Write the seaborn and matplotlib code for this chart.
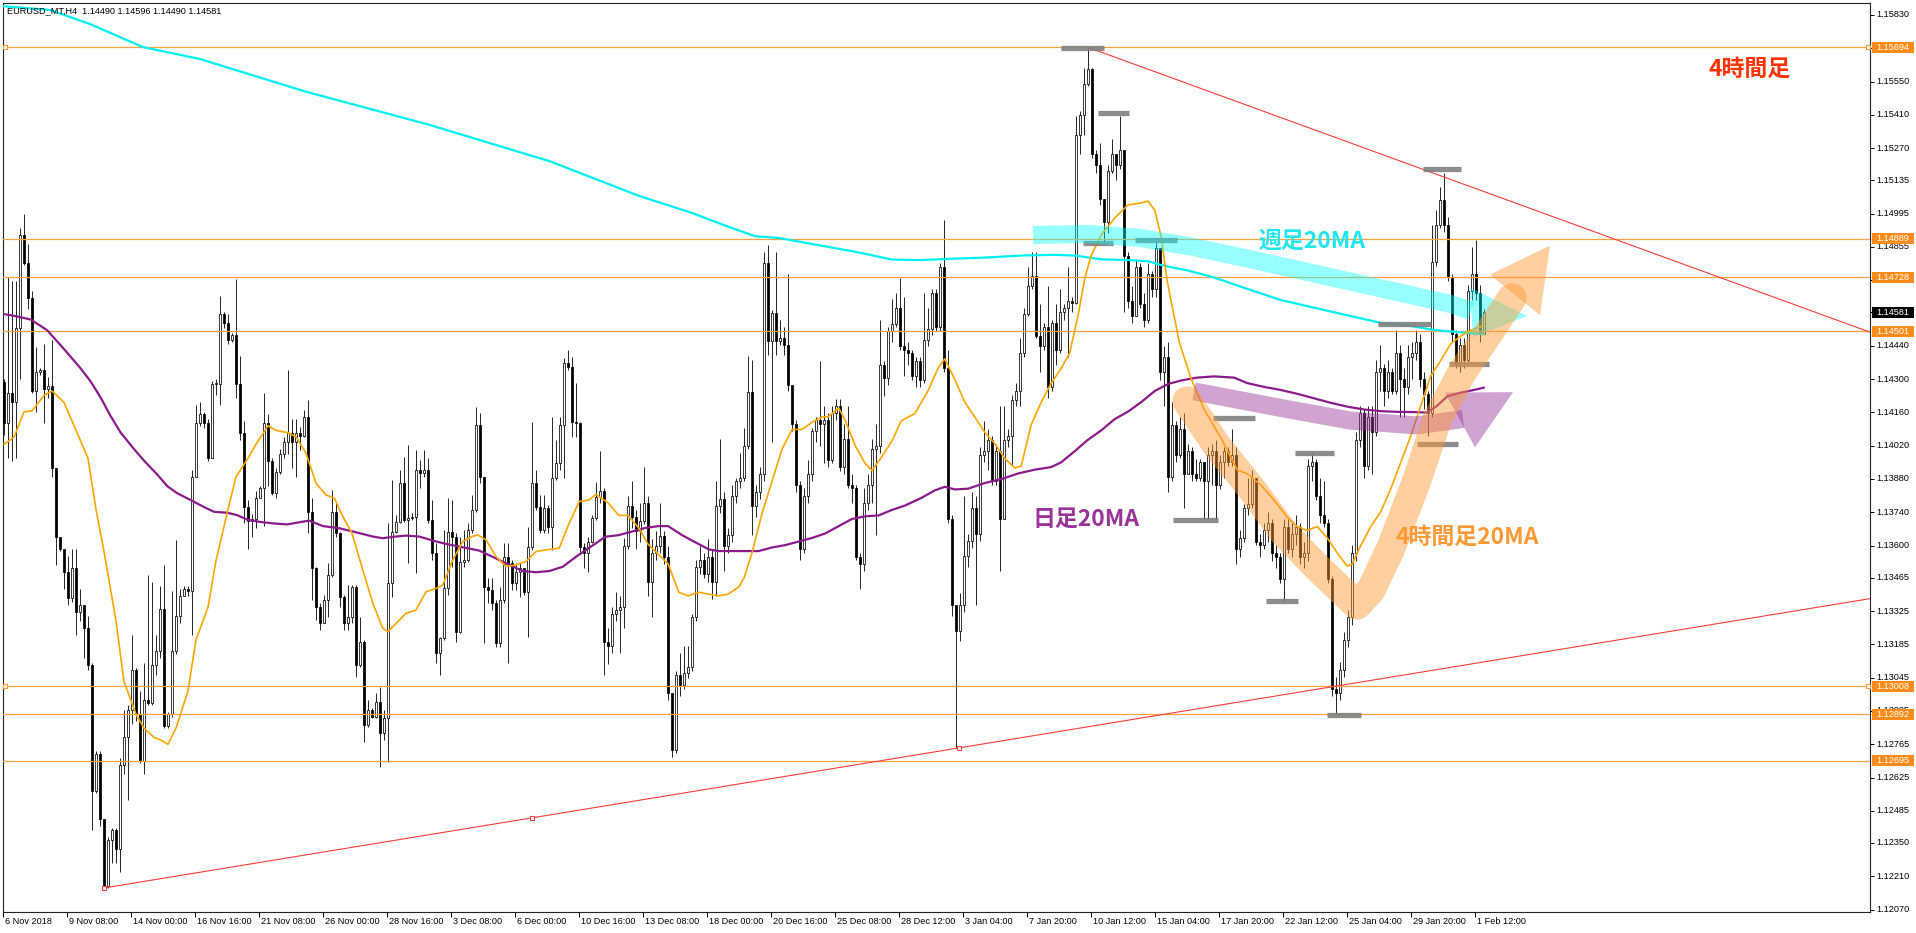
import numpy as np
import pandas as pd
import matplotlib
matplotlib.use("Agg")
import matplotlib.pyplot as plt
import matplotlib.transforms as mtransforms
from matplotlib.patches import Rectangle, Polygon
import seaborn as sns

# ---------------------------------------------------------------- data
first_open = 1.14289
closes = [
    1.14114, 1.14241, 1.14202, 1.14514, 1.14905, 1.14788, 1.14641, 1.14250, 1.14329, 1.14339,
    1.14260, 1.14270, 1.13928, 1.13635, 1.13586, 1.13488, 1.13380, 1.13507, 1.13322, 1.13351,
    1.13253, 1.13097, 1.12569, 1.12725, 1.12452, 1.12168, 1.12364, 1.12403, 1.12325, 1.12677,
    1.12794, 1.12911, 1.13078, 1.12891, 1.12696, 1.12950, 1.12940, 1.13097, 1.13155, 1.13332,
    1.12843, 1.12891, 1.13155, 1.13302, 1.13390, 1.13419, 1.13410, 1.13889, 1.14114, 1.14153,
    1.14114, 1.13967, 1.14280, 1.14280, 1.14573, 1.14534, 1.14465, 1.14485, 1.14280, 1.14074,
    1.13762, 1.13703, 1.13713, 1.13801, 1.13840, 1.14114, 1.13957, 1.13820, 1.13908, 1.13986,
    1.14035, 1.14074, 1.14035, 1.14074, 1.14060, 1.14142, 1.13743, 1.13505, 1.13343, 1.13273,
    1.13371, 1.13476, 1.13743, 1.13652, 1.13385, 1.13273, 1.13301, 1.13427, 1.13098, 1.13196,
    1.12846, 1.12909, 1.12881, 1.12944, 1.12811, 1.12874, 1.13441, 1.13659, 1.13701, 1.13862,
    1.13708, 1.13715, 1.13722, 1.13918, 1.13904, 1.13918, 1.13708, 1.13568, 1.13147, 1.13210,
    1.13420, 1.13659, 1.13638, 1.13238, 1.13533, 1.13540, 1.13666, 1.13750, 1.14107, 1.13890,
    1.13427, 1.13413, 1.13358, 1.13189, 1.13371, 1.13554, 1.13526, 1.13441, 1.13490, 1.13505,
    1.13406, 1.13596, 1.13862, 1.13764, 1.13666, 1.13757, 1.13680, 1.13883, 1.13946, 1.14107,
    1.14366, 1.14352, 1.14121, 1.14114, 1.13596, 1.13568, 1.13617, 1.13715, 1.13806, 1.13830,
    1.13193, 1.13178, 1.13313, 1.13328, 1.13343, 1.13600, 1.13765, 1.13720, 1.13660, 1.13704,
    1.13780, 1.13449, 1.13569, 1.13600, 1.13640, 1.13554, 1.12980, 1.12742, 1.13058, 1.13013,
    1.13066, 1.13088, 1.13298, 1.13509, 1.13539, 1.13479, 1.13554, 1.13449, 1.13765, 1.13795,
    1.13599, 1.13644, 1.13810, 1.13870, 1.13885, 1.14020, 1.14246, 1.13765, 1.13825, 1.13900,
    1.14787, 1.14458, 1.14577, 1.14458, 1.14472, 1.14441, 1.14276, 1.14111, 1.13855, 1.13584,
    1.13810, 1.13900, 1.14081, 1.14126, 1.14111, 1.14126, 1.13960, 1.14156, 1.14186, 1.13930,
    1.14050, 1.13855, 1.13840, 1.13554, 1.13524, 1.13780, 1.13855, 1.14005, 1.14020, 1.14359,
    1.14306, 1.14502, 1.14532, 1.14598, 1.14440, 1.14424, 1.14408, 1.14313, 1.14377, 1.14298,
    1.14463, 1.14511, 1.14661, 1.14519, 1.14772, 1.14345, 1.13713, 1.13349, 1.13240, 1.13349,
    1.13555, 1.13618, 1.13760, 1.13650, 1.13982, 1.13997, 1.14045, 1.13871, 1.13997, 1.13713,
    1.14045, 1.14061, 1.14211, 1.14250, 1.14408, 1.14574, 1.14693, 1.14732, 1.14479, 1.14440,
    1.14519, 1.14266, 1.14535, 1.14424, 1.14582, 1.14598, 1.14629, 1.14621, 1.15325, 1.15411,
    1.15538, 1.15601, 1.15246, 1.15198, 1.15056, 1.14961, 1.15175, 1.15246, 1.15198, 1.15261,
    1.14819, 1.14629, 1.14566, 1.14772, 1.14614, 1.14550, 1.14740, 1.14677, 1.14851, 1.14329,
    1.14392, 1.13887, 1.14108, 1.13982, 1.14092, 1.13902, 1.13997, 1.13902, 1.13886, 1.13950,
    1.13870, 1.13981, 1.13997, 1.13855, 1.13950, 1.13997, 1.13950, 1.13981, 1.13585, 1.13633,
    1.13759, 1.13775, 1.13886, 1.13617, 1.13601, 1.13664, 1.13696, 1.13569, 1.13553, 1.13458,
    1.13680, 1.13585, 1.13648, 1.13680, 1.13553, 1.13569, 1.13934, 1.13950, 1.13807, 1.13727,
    1.13696, 1.13458, 1.12998, 1.12982, 1.13077, 1.13204, 1.13299, 1.13569, 1.14045, 1.14156,
    1.13934, 1.14140, 1.14076, 1.14330, 1.14346, 1.14251, 1.14330, 1.14251, 1.14410, 1.14299,
    1.14267, 1.14394, 1.14410, 1.14457, 1.14299, 1.14235, 1.14156, 1.14790, 1.14949, 1.15052,
    1.14949, 1.14727, 1.14489, 1.14362, 1.14441, 1.14378, 1.14671, 1.14743, 1.14663, 1.14489,
    1.14581,
]
highs = [
    1.14299, 1.14729, 1.14710, 1.14710, 1.14935, 1.14993, 1.14866, 1.14671, 1.14436, 1.14348,
    1.14446, 1.14309, 1.14465, 1.13928, 1.13635, 1.13586, 1.13556, 1.13586, 1.13586, 1.13419,
    1.13351, 1.13302, 1.13107, 1.12735, 1.12735, 1.12452, 1.12374, 1.12413, 1.12413, 1.12706,
    1.12911, 1.12931, 1.13224, 1.13087, 1.12989, 1.13107, 1.13478, 1.13449, 1.13224, 1.13429,
    1.13517, 1.12901, 1.13410, 1.13625, 1.13419, 1.13429, 1.13429, 1.13918, 1.14192, 1.14202,
    1.14162, 1.14133, 1.14290, 1.14299, 1.14651, 1.14583, 1.14573, 1.14495, 1.14720, 1.14397,
    1.14123, 1.13791, 1.13732, 1.13830, 1.13850, 1.14241, 1.14153, 1.13967, 1.13928, 1.14006,
    1.14055, 1.14338, 1.14133, 1.14133, 1.14100, 1.14170, 1.14212, 1.13799, 1.13511, 1.13358,
    1.13392, 1.13526, 1.13834, 1.13785, 1.13659, 1.13392, 1.13434, 1.13434, 1.13434, 1.13301,
    1.13203, 1.12951, 1.12916, 1.12979, 1.13007, 1.12909, 1.13694, 1.13876, 1.13729, 1.13918,
    1.13974, 1.14023, 1.13736, 1.14002, 1.13960, 1.14002, 1.13967, 1.13792, 1.13610, 1.13217,
    1.13666, 1.13799, 1.13792, 1.13652, 1.13638, 1.13666, 1.13694, 1.13813, 1.14184, 1.14156,
    1.13890, 1.13462, 1.13462, 1.13371, 1.13427, 1.13610, 1.13610, 1.13540, 1.13526, 1.13526,
    1.13497, 1.13680, 1.14121, 1.13918, 1.13813, 1.13813, 1.13771, 1.14142, 1.14044, 1.14142,
    1.14387, 1.14422, 1.14394, 1.14282, 1.14121, 1.13610, 1.13638, 1.13729, 1.13869, 1.13998,
    1.13840, 1.13253, 1.13343, 1.13404, 1.13389, 1.13630, 1.13810, 1.13870, 1.13750, 1.13780,
    1.13930, 1.13810, 1.13629, 1.13660, 1.13780, 1.13660, 1.13600, 1.12980, 1.13073, 1.13148,
    1.13178, 1.13178, 1.13313, 1.13539, 1.13600, 1.13569, 1.13629, 1.13584, 1.13870, 1.14050,
    1.13825, 1.13674, 1.13855, 1.13885, 1.13990, 1.14096, 1.14396, 1.14381, 1.13855, 1.13930,
    1.14832, 1.14862, 1.14592, 1.14832, 1.14547, 1.14517, 1.14742, 1.14276, 1.14126, 1.13870,
    1.13840, 1.13960, 1.14096, 1.14141, 1.14374, 1.14186, 1.14156, 1.14186, 1.14216, 1.14216,
    1.14111, 1.14186, 1.13900, 1.13855, 1.13569, 1.13840, 1.13900, 1.14050, 1.14111, 1.14547,
    1.14374, 1.14517, 1.14637, 1.14661, 1.14724, 1.14645, 1.14456, 1.14424, 1.14392, 1.14392,
    1.14661, 1.14598, 1.14677, 1.14677, 1.14787, 1.14969, 1.14424, 1.13729, 1.13349, 1.13400,
    1.13808, 1.13650, 1.13824, 1.13808, 1.14013, 1.14124, 1.14092, 1.14061, 1.14029, 1.14187,
    1.14187, 1.14092, 1.14234, 1.14282, 1.14471, 1.14598, 1.14772, 1.14835, 1.14835, 1.14614,
    1.14535, 1.14693, 1.14550, 1.14614, 1.14677, 1.14614, 1.14772, 1.14645, 1.15404, 1.15427,
    1.15609, 1.15696, 1.15609, 1.15261, 1.15293, 1.15056, 1.15198, 1.15309, 1.15246, 1.15404,
    1.15261, 1.14835, 1.14693, 1.14803, 1.14787, 1.14661, 1.14787, 1.14756, 1.14882, 1.14851,
    1.14440, 1.14456, 1.14202, 1.14124, 1.14140, 1.14156, 1.14029, 1.14013, 1.13965, 1.13965,
    1.13950, 1.14013, 1.14029, 1.14045, 1.13981, 1.14013, 1.14013, 1.14092, 1.14013, 1.13664,
    1.13775, 1.13886, 1.13918, 1.13886, 1.13648, 1.13696, 1.13743, 1.13712, 1.13601, 1.13569,
    1.13712, 1.13712, 1.13696, 1.13727, 1.13696, 1.13617, 1.13965, 1.13990, 1.13965, 1.13886,
    1.13870, 1.13712, 1.13474, 1.13046, 1.13109, 1.13236, 1.13331, 1.13601, 1.14076, 1.14188,
    1.14172, 1.14188, 1.14188, 1.14378, 1.14441, 1.14362, 1.14378, 1.14346, 1.14505, 1.14441,
    1.14346, 1.14441, 1.14457, 1.14505, 1.14489, 1.14330, 1.14251, 1.14949, 1.15012, 1.15107,
    1.15165, 1.14981, 1.14743, 1.14505, 1.14473, 1.14473, 1.14695, 1.14854, 1.14885, 1.14695,
    1.14596,
]
lows = [
    1.14065, 1.13967, 1.13957, 1.13967, 1.14299, 1.14778, 1.14593, 1.14241, 1.14162, 1.14319,
    1.14114, 1.14221, 1.13889, 1.13517, 1.13576, 1.13419, 1.13351, 1.13361, 1.13224, 1.13283,
    1.13126, 1.13078, 1.12403, 1.12560, 1.12422, 1.12159, 1.12159, 1.12266, 1.12266, 1.12227,
    1.12638, 1.12530, 1.12852, 1.12862, 1.12686, 1.12638, 1.12931, 1.12931, 1.13058, 1.13126,
    1.12833, 1.12833, 1.12881, 1.13146, 1.13273, 1.13396, 1.13390, 1.13224, 1.13889, 1.14104,
    1.14094, 1.13957, 1.13967, 1.14231, 1.14192, 1.14514, 1.14446, 1.14456, 1.14221, 1.14045,
    1.13693, 1.13586, 1.13635, 1.13674, 1.13801, 1.13683, 1.13850, 1.13811, 1.13801, 1.13899,
    1.13967, 1.13986, 1.13928, 1.13889, 1.14000, 1.14058, 1.13652, 1.13371, 1.13287, 1.13245,
    1.13273, 1.13301, 1.13469, 1.13638, 1.13343, 1.13245, 1.13245, 1.13273, 1.13049, 1.13091,
    1.12776, 1.12839, 1.12874, 1.12874, 1.12671, 1.12783, 1.12692, 1.13385, 1.13652, 1.13694,
    1.13701, 1.13526, 1.13708, 1.13483, 1.13841, 1.13890, 1.13694, 1.13540, 1.13105, 1.13056,
    1.13203, 1.13392, 1.13511, 1.13196, 1.13231, 1.13511, 1.13533, 1.13652, 1.13743, 1.13862,
    1.13189, 1.13358, 1.13329, 1.13175, 1.13175, 1.13358, 1.13105, 1.13413, 1.13413, 1.13385,
    1.13392, 1.13217, 1.13582, 1.13750, 1.13652, 1.13652, 1.13652, 1.13582, 1.13876, 1.13918,
    1.13883, 1.14338, 1.14058, 1.14058, 1.13568, 1.13505, 1.13490, 1.13610, 1.13708, 1.13780,
    1.13058, 1.13103, 1.13148, 1.13283, 1.13148, 1.13253, 1.13584, 1.13674, 1.13584, 1.13614,
    1.13690, 1.13389, 1.13298, 1.13539, 1.13569, 1.13524, 1.12950, 1.12712, 1.12727, 1.12967,
    1.12997, 1.13043, 1.13073, 1.13283, 1.13479, 1.13464, 1.13449, 1.13374, 1.13389, 1.13735,
    1.13493, 1.13569, 1.13614, 1.13780, 1.13840, 1.13870, 1.14005, 1.13644, 1.13720, 1.13795,
    1.13870, 1.14400, 1.14035, 1.14400, 1.14442, 1.14400, 1.14250, 1.14080, 1.13825, 1.13539,
    1.13569, 1.13780, 1.13870, 1.14035, 1.14020, 1.13945, 1.13930, 1.13945, 1.14126, 1.13915,
    1.13900, 1.13840, 1.13780, 1.13539, 1.13419, 1.13493, 1.13750, 1.13780, 1.13644, 1.13990,
    1.14230, 1.14276, 1.14457, 1.14519, 1.14424, 1.14313, 1.14361, 1.14298, 1.14266, 1.14266,
    1.14282, 1.14440, 1.14487, 1.14503, 1.14503, 1.14329, 1.13697, 1.13302, 1.12750, 1.13200,
    1.13320, 1.13508, 1.13590, 1.13349, 1.13618, 1.13950, 1.13918, 1.13855, 1.13855, 1.13492,
    1.13713, 1.14013, 1.13934, 1.14187, 1.14187, 1.14392, 1.14566, 1.14677, 1.14471, 1.14329,
    1.14424, 1.14219, 1.14250, 1.14361, 1.14408, 1.14550, 1.14392, 1.14582, 1.14614, 1.15246,
    1.15325, 1.15530, 1.15230, 1.15167, 1.15030, 1.14866, 1.14914, 1.15167, 1.15135, 1.15183,
    1.14582, 1.14598, 1.14535, 1.14566, 1.14598, 1.14519, 1.14535, 1.14645, 1.14645, 1.14298,
    1.14187, 1.13824, 1.13870, 1.13950, 1.13966, 1.13759, 1.13902, 1.13870, 1.13870, 1.13870,
    1.13712, 1.13712, 1.13855, 1.13712, 1.13839, 1.13886, 1.13934, 1.13934, 1.13521, 1.13553,
    1.13617, 1.13727, 1.13759, 1.13601, 1.13553, 1.13585, 1.13617, 1.13537, 1.13506, 1.13442,
    1.13363, 1.13569, 1.13553, 1.13601, 1.13521, 1.13506, 1.13537, 1.13870, 1.13791, 1.13696,
    1.13680, 1.13442, 1.12966, 1.12887, 1.12950, 1.13046, 1.13173, 1.13268, 1.13537, 1.14013,
    1.13886, 1.13918, 1.13902, 1.14061, 1.14251, 1.14188, 1.14219, 1.14235, 1.14235, 1.14140,
    1.14140, 1.14235, 1.14299, 1.14378, 1.14267, 1.14172, 1.14061, 1.14140, 1.14774, 1.14933,
    1.14917, 1.14711, 1.14457, 1.14346, 1.14330, 1.14346, 1.14362, 1.14632, 1.14632, 1.14457,
    1.14490,
]

# 4H 20MA (orange), daily 20MA (purple), weekly 20MA (cyan): (bar, price)
ma4h_bar = [0, 2.5, 5, 7, 10, 12, 15, 18, 21, 23, 25, 28, 30, 33, 35, 37.5, 39, 41, 43, 46,
            48, 51, 53, 56, 58, 61, 63, 66, 68, 71, 73, 75.5, 78, 80.5, 82.6, 84.7, 87, 89.7, 92.2, 94.7,
            96, 98, 100.5, 103, 105.5, 108, 109.7, 112, 114.7, 117, 118.4, 120.5, 123, 125.5, 128, 130.5,
            133, 135.5, 138.8, 141.3, 143.8, 146.3, 148, 151, 153.7, 156, 158.7, 161, 163.7, 166,
            168.7, 171, 173.7, 176, 178.7, 181, 183.7, 185, 187, 189.5, 192, 194.5, 197, 199.5, 202,
            204.5, 206, 208.7, 210.3, 212.8, 215.3, 217, 219.5, 222, 224.3, 227.7, 231, 233.5, 235.2,
            237.7, 240.2, 242.7, 245.2, 247.7, 250.2, 252.7, 254.3, 256.8, 259.3, 261.8, 264.3, 266.4,
            268.5, 270.2, 271.8, 274.3, 277.7, 281, 284.3, 286, 287.7, 289.3, 290.8, 293.8, 296.8, 300,
            304.5, 308.3, 310.8, 314.2, 317.5, 320.8, 323.3, 325.8, 328.3, 330.8, 333.3, 335.8, 337,
            339.2, 341.7, 344.2, 346.7, 349.2, 351.7, 354.2, 356.7, 359.2, 361.7, 364.2, 366.7, 369.2, 370]
ma4h_val = [1.14026, 1.14055, 1.14162, 1.14166, 1.14231, 1.14250, 1.14202, 1.14084, 1.13967, 1.13752,
            1.13576, 1.13283, 1.13028, 1.12891, 1.12833, 1.12794, 1.12784, 1.12765, 1.12833, 1.12989,
            1.13204, 1.13341, 1.13537, 1.13752, 1.13889, 1.13967, 1.14026, 1.14104, 1.14084, 1.14074,
            1.14058, 1.13988, 1.13862, 1.13813, 1.13799, 1.13722, 1.13652, 1.13497, 1.13358, 1.13252,
            1.13238, 1.13273, 1.13315, 1.13329, 1.13406, 1.13420, 1.13434, 1.13533, 1.13617, 1.13638,
            1.13645, 1.13624, 1.13554, 1.13512, 1.13519, 1.13533, 1.13575, 1.13582, 1.13589, 1.13694,
            1.13785, 1.13792, 1.13815, 1.13780, 1.13727, 1.13727, 1.13674, 1.13606, 1.13561, 1.13524,
            1.13404, 1.13389, 1.13404, 1.13396, 1.13389, 1.13396, 1.13426, 1.13464, 1.13569, 1.13735,
            1.13870, 1.14005, 1.14088, 1.14088, 1.14118, 1.14141, 1.14141, 1.14178, 1.14126, 1.14020,
            1.13945, 1.13915, 1.13975, 1.14040, 1.14124, 1.14155, 1.14250, 1.14345, 1.14385, 1.14298,
            1.14203, 1.14140, 1.14076, 1.14029, 1.13966, 1.13926, 1.13934, 1.14108, 1.14203, 1.14282,
            1.14345, 1.14408, 1.14566, 1.14724, 1.14819, 1.14906, 1.14977, 1.15032, 1.15040, 1.15048,
            1.15009, 1.14898, 1.14712, 1.14456, 1.14300, 1.14174, 1.14044, 1.13918, 1.13902, 1.13855,
            1.13791, 1.13720, 1.13680, 1.13664, 1.13680, 1.13633, 1.13569, 1.13514, 1.13521, 1.13601,
            1.13680, 1.13743, 1.13839, 1.13950, 1.14061, 1.14188, 1.14314, 1.14378, 1.14449, 1.14481,
            1.14505, 1.14520, 1.14529]
mad_bar = [0, 3.3, 6.7, 10.8, 15, 19, 21.7, 24.2, 26.7, 29.2, 32.5, 35, 38.3, 40.8, 43.3, 46.7, 50,
           52.5, 55.8, 58.3, 60.8, 64.2, 67.5, 70.8, 74.2, 76.3, 79.7, 83.8, 88, 92.2, 94.7, 98, 100.5,
           103.8, 107.2, 110.5, 114.7, 118.8, 123, 126.3, 129.7, 133, 136.3, 139.7, 143, 145.5, 148,
           150.3, 153.7, 157, 160.3, 163.7, 166, 169.5, 172.8, 176.2, 178.7, 182, 185.3, 188.7, 192,
           195.3, 198.7, 202, 205.3, 208.7, 212, 215.3, 218.7, 222, 225.2, 229.3, 232.7, 235.2, 237.7,
           241, 245.2, 249.3, 253.5, 257.7, 261.8, 264.3, 267.7, 271, 274.3, 277.7, 281, 284.3, 287.7,
           291, 294.3, 298.3, 302.5, 307.5, 310.8, 315, 319.2, 323.3, 327.5, 331.7, 335.8, 340, 344.2,
           348.3, 352.5, 355.8, 358.3, 360.8, 364.2, 367.5, 370]
mad_val = [1.14573, 1.14563, 1.14550, 1.14505, 1.14426, 1.14348, 1.14289, 1.14221, 1.14143, 1.14074,
           1.14006, 1.13957, 1.13899, 1.13850, 1.13820, 1.13791, 1.13762, 1.13742, 1.13738, 1.13728,
           1.13709, 1.13699, 1.13693, 1.13689, 1.13699, 1.13705, 1.13682, 1.13673, 1.13656, 1.13638,
           1.13631, 1.13638, 1.13642, 1.13638, 1.13621, 1.13607, 1.13593, 1.13579, 1.13546, 1.13519,
           1.13493, 1.13488, 1.13493, 1.13511, 1.13553, 1.13582, 1.13610, 1.13637, 1.13644, 1.13659,
           1.13674, 1.13682, 1.13682, 1.13644, 1.13614, 1.13584, 1.13577, 1.13577, 1.13577, 1.13577,
           1.13592, 1.13602, 1.13617, 1.13632, 1.13651, 1.13682, 1.13712, 1.13723, 1.13727, 1.13750,
           1.13768, 1.13800, 1.13832, 1.13847, 1.13836, 1.13839, 1.13863, 1.13879, 1.13903, 1.13919,
           1.13930, 1.13950, 1.13997, 1.14045, 1.14084, 1.14132, 1.14163, 1.14203, 1.14250, 1.14279,
           1.14294, 1.14306, 1.14311, 1.14306, 1.14283, 1.14267, 1.14254, 1.14238, 1.14219, 1.14200,
           1.14184, 1.14172, 1.14165, 1.14162, 1.14161, 1.14159, 1.14188, 1.14227, 1.14243, 1.14254,
           1.14264]
maw_bar = [-1, 11.5, 21.5, 34.75, 49, 75.4, 106, 136.5, 158.7, 172, 180.3, 187.8, 193.7, 201.2,
           213.7, 222, 229.3, 237.7, 246, 254.3, 262.7, 267.7, 274.3, 281, 286, 289.3, 293.5, 296,
           302.5, 310.8, 319.2, 327.5, 335.8, 344.2, 352.5, 356.7, 360.8, 369.2, 370]
maw_val = [1.15868, 1.15851, 1.15792, 1.15695, 1.15645, 1.15508, 1.15370, 1.15215, 1.15070, 1.14998,
           1.14945, 1.14900, 1.14893, 1.14870, 1.14832, 1.14802, 1.14800, 1.14806, 1.14811, 1.14819,
           1.14822, 1.14819, 1.14803, 1.14800, 1.14795, 1.14779, 1.14764, 1.14756, 1.14727, 1.14679,
           1.14632, 1.14600, 1.14568, 1.14536, 1.14521, 1.14508, 1.14501, 1.14489, 1.14488]

x_labels = ["6 Nov 2018", "9 Nov 08:00", "14 Nov 00:00", "16 Nov 16:00", "21 Nov 08:00",
            "26 Nov 00:00", "28 Nov 16:00", "3 Dec 08:00", "6 Dec 00:00", "10 Dec 16:00",
            "13 Dec 08:00", "18 Dec 00:00", "20 Dec 16:00", "25 Dec 08:00", "28 Dec 12:00",
            "3 Jan 04:00", "7 Jan 20:00", "10 Jan 12:00", "15 Jan 04:00", "17 Jan 20:00",
            "22 Jan 12:00", "25 Jan 04:00", "29 Jan 20:00", "1 Feb 12:00"]
y_ticks = [1.15830, 1.15690, 1.15550, 1.15410, 1.15270, 1.15135, 1.14995, 1.14855, 1.14715,
           1.14580, 1.14440, 1.14300, 1.14160, 1.14020, 1.13880, 1.13740, 1.13600, 1.13465,
           1.13325, 1.13185, 1.13045, 1.12905, 1.12765, 1.12625, 1.12485, 1.12350, 1.12210, 1.12070]
h_levels = [1.15694, 1.14889, 1.14728, 1.14501, 1.13008, 1.12892, 1.12695]
last_price = 1.14581
title_text = "EURUSD_MT,H4  1.14490 1.14596 1.14490 1.14581"

trend_down_bar = [271, 466.5]
trend_down_val = [1.15694, 1.14497]
trend_up_bar = [25, 466.5]
trend_up_val = [1.12161, 1.13377]
trend_up_pts_bar = [25, 131.9, 238.75]
trend_up_pts_val = [1.12161, 1.12456, 1.12751]

# gray high / low markers: (bar start, bar end, price)
marks = [(264.25, 275, 1.15690), (273.5, 281.2, 1.15416), (269.8, 277.2, 1.14870),
         (282.7, 293.2, 1.14883), (292.2, 303.5, 1.13706), (302.3, 312.7, 1.14137),
         (315.5, 323.5, 1.13366), (322.7, 332.5, 1.13990), (330.8, 339.2, 1.12888),
         (343.5, 356.7, 1.14530), (354.8, 364.2, 1.15182), (353.3, 363.5, 1.14027),
         (361.2, 371.2, 1.14363)]

# hand-drawn arrows (bar, price)
cyan_band_bar = [257.25, 271, 284, 296, 311.5, 328.25, 345, 361.75, 366.75]
cyan_band_val = [1.14905, 1.14910, 1.14893, 1.14859, 1.14804, 1.14741, 1.14678, 1.14615, 1.14586]
cyan_head_bar = [366.5, 380.75, 367.25]
cyan_head_val = [1.14684, 1.14565, 1.14475]
purple_band_bar = [297.5, 320, 336.75, 353.25, 364.75]
purple_band_val = [1.14248, 1.14176, 1.14125, 1.14105, 1.14132]
purple_head_bar = [360.25, 377.25, 367.75]
purple_head_val = [1.14243, 1.14245, 1.14013]
orange_band_bar = [295.75, 303.25, 311.75, 320, 328.25, 335, 338.25, 341.75, 346.75, 353.25,
                   358.25, 364.25, 370, 377]
orange_band_val = [1.14208, 1.14019, 1.13842, 1.13653, 1.13510, 1.13401, 1.13350, 1.13413,
                   1.13590, 1.13876, 1.14128, 1.14321, 1.14464, 1.14641]
orange_head_bar = [371.5, 386.5, 384]
orange_head_val = [1.14739, 1.14861, 1.14568]

notes = [("4時間足", 436.5, 1.15601, "#FF3300"),
         ("週足20MA", 327, 1.14880, "#22E6EE"),
         ("日足20MA", 270.5, 1.13712, "#993399"),
         ("4時間足20MA", 365.9, 1.13634, "#FF9933")]

# ---------------------------------------------------------------- figure
sns.set_theme(style="white")
plt.rcParams["font.family"] = ["Liberation Sans", "Noto Sans CJK JP", "DejaVu Sans"]

W, H = 1916, 933
fig = plt.figure(figsize=(W / 100, H / 100), dpi=100)
fig.patch.set_facecolor("white")
AXW, AXH = 1867, 909
ax = fig.add_axes([3 / W, 21 / H, AXW / W, AXH / H])
ax.set_facecolor("white")
ax.set_xlim(-0.25, 466.5)
ax.set_ylim(1.12060, 1.158804)
px_y = (1.158804 - 1.12060) / AXH   # price per pixel
FS = 6.6

# candles
n = len(closes)
idx = np.arange(n)
c = np.array(closes)
o = np.array([first_open] + closes[:-1])
h = np.array(highs)
l = np.array(lows)
top = np.maximum.reduce([h, o, c])
bot = np.minimum.reduce([l, o, c])
ax.vlines(idx, bot, top, color="black", linewidth=0.6, zorder=3)
blo = np.minimum(o, c)
bh = np.maximum(np.abs(c - o), 0.6 * px_y)
up = c >= o
ax.bar(idx[up], bh[up], bottom=blo[up], width=0.6, color="white", edgecolor="black",
       linewidth=0.55, zorder=4)
ax.bar(idx[~up], bh[~up], bottom=blo[~up], width=0.6, color="black", edgecolor="black",
       linewidth=0.55, zorder=4)

# horizontal levels
for p in h_levels:
    ax.axhline(p, color="#FFA040", linewidth=0.9, zorder=5)
for p in (1.15694, 1.13008):
    ax.plot([0.3, 465.9], [p, p], linestyle="none", marker="s", markersize=3.2,
            markerfacecolor="white", markeredgecolor="#FF9933", markeredgewidth=0.8,
            zorder=6, clip_on=False)

# moving averages via seaborn
df_w = pd.DataFrame({"bar": maw_bar, "price": maw_val})
df_d = pd.DataFrame({"bar": mad_bar, "price": mad_val})
df_4 = pd.DataFrame({"bar": ma4h_bar, "price": ma4h_val})
sns.lineplot(data=df_w, x="bar", y="price", ax=ax, color="#00F0F0", linewidth=1.6,
             estimator=None, sort=False, zorder=6)
sns.lineplot(data=df_d, x="bar", y="price", ax=ax, color="#8B1A8B", linewidth=1.6,
             estimator=None, sort=False, zorder=6)
sns.lineplot(data=df_4, x="bar", y="price", ax=ax, color="#FFA500", linewidth=1.2,
             estimator=None, sort=False, zorder=6)

# trend lines
ax.plot(trend_down_bar, trend_down_val, color="#FF3B3B", linewidth=0.8, zorder=6)
ax.plot(trend_up_bar, trend_up_val, color="#FF3B3B", linewidth=0.8, zorder=6)
ax.plot(trend_up_pts_bar, trend_up_pts_val, linestyle="none", marker="s", markersize=3.2,
        markerfacecolor="white", markeredgecolor="#FF3B3B", markeredgewidth=0.8, zorder=7)

# gray markers
for x0, x1, p in marks:
    ax.plot([x0, x1], [p, p], color="#808080", linewidth=3.8, alpha=0.9,
            solid_capstyle="butt", zorder=7)

# arrows
ax.plot(cyan_band_bar, cyan_band_val, color="#00FFFF", alpha=0.41, linewidth=13,
        solid_capstyle="butt", solid_joinstyle="round", zorder=8)
ax.add_patch(Polygon(list(zip(cyan_head_bar, cyan_head_val)), closed=True,
                     facecolor="#00FFFF", alpha=0.41, edgecolor="none", zorder=8))
ax.plot(purple_band_bar, purple_band_val, color="#993399", alpha=0.45, linewidth=13,
        solid_capstyle="butt", solid_joinstyle="round", zorder=8)
ax.add_patch(Polygon(list(zip(purple_head_bar, purple_head_val)), closed=True,
                     facecolor="#993399", alpha=0.45, edgecolor="none", zorder=8))
ax.plot(orange_band_bar, orange_band_val, color="#FF9933", alpha=0.47, linewidth=21,
        solid_capstyle="round", solid_joinstyle="round", zorder=8)
ax.add_patch(Polygon(list(zip(orange_head_bar, orange_head_val)), closed=True,
                     facecolor="#FF9933", alpha=0.47, edgecolor="none", zorder=8))

# annotation texts
for txt, xb, yp, col in notes:
    ax.text(xb, yp, txt, color=col, fontsize=16.5, fontweight="bold",
            family=["Noto Sans CJK JP"], ha="center", va="center", zorder=9)

# axes cosmetics
ax.set_xlabel("")
ax.set_ylabel("")
ax.set_xticks([16 * k - 0.25 for k in range(len(x_labels))])
ax.set_xticklabels([])
ax.yaxis.tick_right()
ax.set_yticks(y_ticks)
ax.set_yticklabels([])
ax.tick_params(axis="x", direction="out", length=3.6, width=0.7, color="black", bottom=True)
ax.tick_params(axis="y", direction="out", length=2.9, width=0.7, color="black",
               right=True, left=False)
for s in ax.spines.values():
    s.set_color("#222222")
    s.set_linewidth(0.8)
ax.grid(False)

bx = mtransforms.blended_transform_factory(ax.transData, ax.transAxes)
by = mtransforms.blended_transform_factory(ax.transAxes, ax.transData)
for k, lab in enumerate(x_labels):
    ax.text(16 * k - 0.25 + 0.4, -9.5 / AXH, lab, transform=bx, ha="left", va="center",
            fontsize=FS, color="black", clip_on=False)
for v in y_ticks:
    ax.text(1 + 6 / AXW, v, f"{v:.5f}", transform=by, ha="left", va="center",
            fontsize=FS, color="black", clip_on=False, zorder=4)

# price boxes
def price_box(p, fc):
    ax.add_patch(Rectangle((1 + 1.5 / AXW, p - 5.5 * px_y), 42 / AXW, 11 * px_y,
                           transform=by, facecolor=fc, edgecolor="none",
                           clip_on=False, zorder=10))
    ax.text(1 + 6 / AXW, p, f"{p:.5f}", transform=by, ha="left", va="center",
            fontsize=FS, color="white", clip_on=False, zorder=11)

for p in h_levels:
    price_box(p, "#FF8C1A")
price_box(last_price, "#000000")

ax.text(4 / AXW, 1 - 8 / AXH, title_text, transform=ax.transAxes, ha="left", va="center",
        fontsize=FS, color="black", zorder=11)

fig.savefig("out.png", dpi=100, facecolor="white")
